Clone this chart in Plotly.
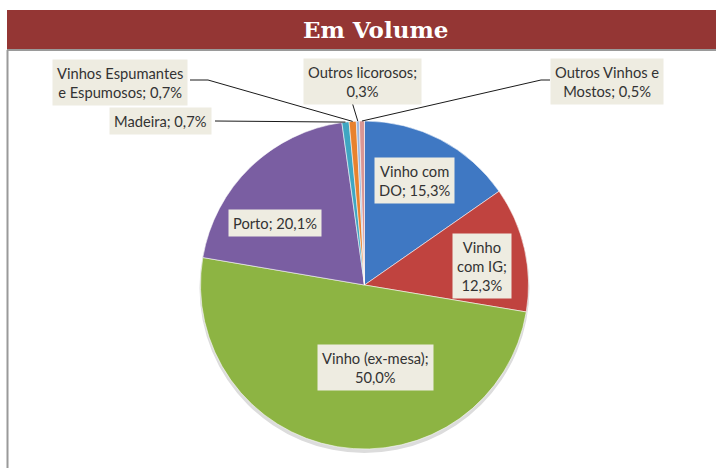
import math
import plotly.graph_objects as go

W, H = 716, 468

categories = ["Vinho com DO", "Vinho com IG", "Vinho (ex-mesa)", "Porto", "Madeira",
              "Vinhos Espumantes e Espumosos", "Outros licorosos", "Outros Vinhos e Mostos"]
values = [15.3, 12.3, 50.0, 20.1, 0.7, 0.7, 0.3, 0.5]
label_texts = ["Vinho com<br>DO; 15,3%", "Vinho<br>com IG;<br>12,3%", "Vinho (ex-mesa);<br>50,0%",
               "Porto; 20,1%", "Madeira; 0,7%", "Vinhos Espumantes<br>e Espumosos; 0,7%",
               "Outros licorosos;<br>0,3%", "Outros Vinhos e<br>Mostos; 0,5%"]
colors = ["#3F78C3", "#C0433F", "#8DB443", "#7A5EA2", "#3FA6C2", "#E8822E", "#9DB8DE", "#D99694"]
title_text = "Em Volume"

# layout geometry (pixels)
cx, cy, R = 364.5, 285.0, 164.0
label_pos = [(414, 181), (482, 266), (375, 367), (275, 223), (160, 121),
             (120, 82), (362, 81), (607, 81)]
leader_start = {4: [(215, 121)], 5: [(190, 80), (208, 80)], 6: [(352, 102)],
                7: [(550, 80), (541, 80)]}


def px(x):
    return x / W


def py(y):
    return 1 - y / H


fig = go.Figure()
fig.add_trace(go.Pie(
    labels=categories, values=values, sort=False, direction="clockwise", rotation=0,
    marker=dict(colors=colors, line=dict(color="rgba(255,255,255,0.55)", width=1)),
    textinfo="none", hoverinfo="label+percent", showlegend=False,
    domain=dict(x=[px(cx - R), px(cx + R)], y=[py(cy + R), py(cy - R)]),
))

shapes = []
# soft shadow under the pie
shapes.append(dict(type="circle", xref="paper", yref="paper", layer="below",
                   x0=px(cx - R - 1), x1=px(cx + R + 1), y0=py(cy + R + 4), y1=py(cy - R + 2),
                   fillcolor="#DCDCDC", line=dict(width=0)))
# banner
shapes.append(dict(type="rect", xref="paper", yref="paper", x0=px(7), x1=px(716), y0=py(49), y1=py(10),
                   fillcolor="#943634", line=dict(width=0), layer="below"))
# grey frame lines
shapes.append(dict(type="line", xref="paper", yref="paper", x0=px(7), x1=px(716), y0=py(50), y1=py(50),
                   line=dict(color="#9A9A9A", width=2)))
shapes.append(dict(type="line", xref="paper", yref="paper", x0=px(7.5), x1=px(7.5), y0=py(50), y1=py(468),
                   line=dict(color="#9A9A9A", width=2)))

# leader lines to slice edges computed from data
total = sum(values)
cum = 0
mids = []
for v in values:
    mids.append((cum + v / 2) / total * 2 * math.pi)
    cum += v
for i, pts in leader_start.items():
    a = mids[i]
    ex, ey = cx + R * math.sin(a), cy - R * math.cos(a)
    path_pts = pts + [(ex, ey)]
    for (x0, y0), (x1, y1) in zip(path_pts[:-1], path_pts[1:]):
        shapes.append(dict(type="line", xref="paper", yref="paper", x0=px(x0), y0=py(y0),
                           x1=px(x1), y1=py(y1), line=dict(color="#1a1a1a", width=1)))

annotations = []
annotations.append(dict(text=title_text, x=px(375), y=py(30), xref="paper", yref="paper",
                        showarrow=False, xanchor="center", yanchor="middle",
                        font=dict(family="DejaVu Serif", size=23, color="white", weight="bold")))
for t, (lx, ly) in zip(label_texts, label_pos):
    annotations.append(dict(text=t, x=px(lx), y=py(ly), xref="paper", yref="paper",
                            showarrow=False, xanchor="center", yanchor="middle", align="center",
                            bgcolor="#EEECE1", borderpad=4,
                            font=dict(family="Lato", size=14.7, color="#333333")))

fig.update_layout(width=W, height=H, margin=dict(l=0, r=0, t=0, b=0),
                  paper_bgcolor="white", plot_bgcolor="white",
                  shapes=shapes, annotations=annotations)
fig.write_html("out.html", config={"displayModeBar": False},
               post_script="document.body.style.margin='0';document.body.style.overflow='hidden';")
